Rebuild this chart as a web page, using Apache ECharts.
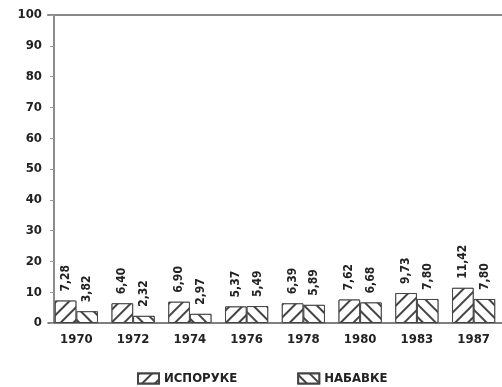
<!DOCTYPE html>
<html><head><meta charset="utf-8">
<script src="https://cdn.jsdelivr.net/npm/echarts@6/dist/echarts.min.js"></script>
<style>html,body{margin:0;padding:0;background:#fff}#c{width:502px;height:387px}</style>
</head><body><div id="c"></div>
<script>
const years = ['1970','1972','1974','1976','1978','1980','1983','1987'];
const isporuke = [7.28, 6.40, 6.90, 5.37, 6.39, 7.62, 9.73, 11.42];
const nabavke = [3.82, 2.32, 2.97, 5.49, 5.89, 6.68, 7.80, 7.80];
const seriesNames = ['ИСПОРУКЕ', 'НАБАВКЕ'];
const yTicks = [0,10,20,30,40,50,60,70,80,90,100];

const FONT = "'Liberation Sans Narrow', 'DejaVu Sans Condensed', sans-serif";
const chart = echarts.init(document.getElementById('c'), null, {renderer: 'canvas'});
const lbl = {
  show: true, position: 'top', rotate: 90, align: 'left', verticalAlign: 'middle',
  distance: 9, fontFamily: FONT, fontWeight: 'bold', fontSize: 12, color: '#222',
  formatter: p => p.value.toFixed(2).replace('.', ',')
};
function decal(rot){
  return {symbol:'rect', symbolSize:1, dashArrayX:[1,0], dashArrayY:[1.2,6.5], rotation:rot, color:'#444', backgroundColor:'#fff'};
}
chart.setOption({
  animation: false,
  grid: {left: 48, top: 15, width: 464, bottom: 64},
  legend: {
    left: 132, top: 367, itemWidth: 21, itemHeight: 10, itemGap: 60, icon: 'rect',
    textStyle: {fontFamily: FONT, fontWeight: 'bold', fontSize: 13, color: '#222'},
    data: seriesNames
  },
  xAxis: [{
    type: 'category', data: years, boundaryGap: true,
    axisLine: {lineStyle: {color: '#555', width: 1.5}},
    axisTick: {alignWithLabel: true, length: 4, lineStyle: {color: '#555'}},
    axisLabel: {margin: 10, fontFamily: FONT, fontWeight: 'bold', fontSize: 13, color: '#222'}
  },{
    type: 'category', position: 'top', data: years,
    axisLine: {show: true, lineStyle: {color: '#888', width: 2}},
    axisTick: {show: false}, axisLabel: {show: false}
  }],
  yAxis: {
    type: 'value', min: yTicks[0], max: yTicks[yTicks.length-1], interval: 10, offset: -6,
    axisLine: {show: true, lineStyle: {color: '#666', width: 1.5}},
    axisTick: {show: true, length: 4, lineStyle: {color: '#999'}},
    splitLine: {show: false},
    axisLabel: {margin: 12, fontFamily: FONT, fontWeight: 'bold', fontSize: 13, color: '#222'}
  },
  series: [{
    name: seriesNames[0], type: 'bar', data: isporuke, barGap: '0%', barCategoryGap: '24%',
    itemStyle: {color: '#fff', borderColor: '#444', borderWidth: 1, decal: decal(-Math.PI/4)},
    label: lbl
  },{
    name: seriesNames[1], type: 'bar', data: nabavke,
    itemStyle: {color: '#fff', borderColor: '#444', borderWidth: 1, decal: decal(Math.PI/4)},
    label: lbl
  }]
});
</script></body></html>
